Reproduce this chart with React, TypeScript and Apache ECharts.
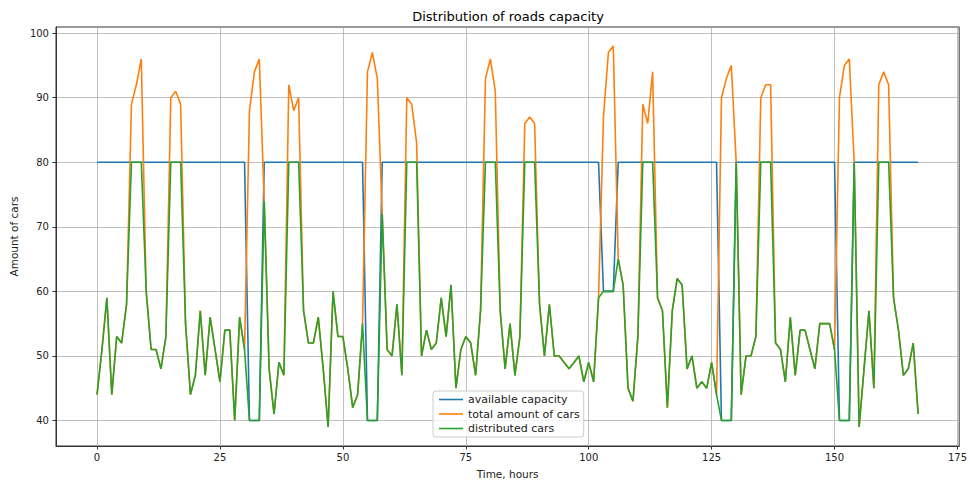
import React, { useEffect, useRef } from 'react';
import * as echarts from 'echarts';

const FONT = '"DejaVu Sans", sans-serif';
const TITLE = 'Distribution of roads capacity';
const X_NAME = 'Time, hours';
const Y_NAME = 'Amount of cars';
const X_TICKS = [0, 25, 50, 75, 100, 125, 150, 175];
const Y_TICKS = [40, 50, 60, 70, 80, 90, 100];
const SERIES_NAMES = ['available capacity', 'total amount of cars', 'distributed cars'];
const COLORS = ['#1f77b4', '#ff7f0e', '#2ca02c'];

// hourly values, hour 0 .. 167
const capacity = [
  80, 80, 80, 80, 80, 80, 80, 80, 80, 80, 80, 80,
  80, 80, 80, 80, 80, 80, 80, 80, 80, 80, 80, 80,
  80, 80, 80, 80, 80, 80, 80, 40, 40, 40, 80, 80,
  80, 80, 80, 80, 80, 80, 80, 80, 80, 80, 80, 80,
  80, 80, 80, 80, 80, 80, 80, 40, 40, 40, 80, 80,
  80, 80, 80, 80, 80, 80, 80, 80, 80, 80, 80, 80,
  80, 80, 80, 80, 80, 80, 80, 80, 80, 80, 80, 80,
  80, 80, 80, 80, 80, 80, 80, 80, 80, 80, 80, 80,
  80, 80, 80, 80, 80, 80, 80, 60, 60, 60, 80, 80,
  80, 80, 80, 80, 80, 80, 80, 80, 80, 80, 80, 80,
  80, 80, 80, 80, 80, 80, 80, 40, 40, 40, 80, 80,
  80, 80, 80, 80, 80, 80, 80, 80, 80, 80, 80, 80,
  80, 80, 80, 80, 80, 80, 80, 40, 40, 40, 80, 80,
  80, 80, 80, 80, 80, 80, 80, 80, 80, 80, 80, 80,
];

const totalCars = [
  44, 51, 59, 44, 53, 52, 58, 89, 92, 96, 60, 51,
  51, 48, 53, 90, 91, 89, 55, 44, 47, 57, 47, 56,
  51, 46, 54, 54, 40, 56, 51, 88, 94, 96, 74, 48,
  41, 49, 47, 92, 88, 90, 57, 52, 52, 56, 48, 39,
  60, 53, 53, 48, 42, 44, 55, 94, 97, 93, 72, 51,
  50, 58, 47, 90, 89, 83, 50, 54, 51, 52, 59, 53,
  61, 45, 51, 53, 52, 47, 57, 93, 96, 91, 57, 48,
  55, 47, 53, 86, 87, 86, 58, 50, 58, 50, 50, 49,
  48, 49, 50, 46, 49, 46, 59, 87, 97, 98, 65, 61,
  45, 43, 53, 89, 86, 94, 59, 57, 42, 57, 62, 61,
  48, 50, 45, 46, 45, 49, 44, 90, 93, 95, 80, 44,
  50, 50, 53, 90, 92, 92, 52, 51, 46, 56, 47, 54,
  54, 51, 48, 55, 55, 55, 51, 90, 95, 96, 80, 39,
  48, 57, 45, 92, 94, 92, 59, 54, 47, 48, 52, 41,
];

const distributedCars = [
  44, 51, 59, 44, 53, 52, 58, 80, 80, 80, 60, 51,
  51, 48, 53, 80, 80, 80, 55, 44, 47, 57, 47, 56,
  51, 46, 54, 54, 40, 56, 51, 40, 40, 40, 74, 48,
  41, 49, 47, 80, 80, 80, 57, 52, 52, 56, 48, 39,
  60, 53, 53, 48, 42, 44, 55, 40, 40, 40, 72, 51,
  50, 58, 47, 80, 80, 80, 50, 54, 51, 52, 59, 53,
  61, 45, 51, 53, 52, 47, 57, 80, 80, 80, 57, 48,
  55, 47, 53, 80, 80, 80, 58, 50, 58, 50, 50, 49,
  48, 49, 50, 46, 49, 46, 59, 60, 60, 60, 65, 61,
  45, 43, 53, 80, 80, 80, 59, 57, 42, 57, 62, 61,
  48, 50, 45, 46, 45, 49, 44, 40, 40, 40, 80, 44,
  50, 50, 53, 80, 80, 80, 52, 51, 46, 56, 47, 54,
  54, 51, 48, 55, 55, 55, 51, 40, 40, 40, 80, 39,
  48, 57, 45, 80, 80, 80, 59, 54, 47, 48, 52, 41,
];

export default function App() {
  const ref = useRef<HTMLDivElement>(null);

  useEffect(() => {
    if (!ref.current) return;
    const chart = echarts.init(ref.current, null, { renderer: 'svg' });
    const toPairs = (arr: number[]) => arr.map((v, i) => [i, v]);
    const seriesData = [capacity, totalCars, distributedCars];
    const textColor = '#222';

    chart.setOption({
      animation: false,
      backgroundColor: '#ffffff',
      textStyle: { fontFamily: FONT },
      graphic: [
        {
          type: 'text',
          x: 508,
          y: 16,
          style: {
            text: TITLE,
            fontFamily: FONT,
            fontSize: 13,
            fill: '#000',
            textAlign: 'center',
            textVerticalAlign: 'middle',
          },
        },
      ],
      grid: {
        left: 54,
        right: 8,
        top: 27,
        bottom: 36,
        show: true,
        borderColor: '#333',
        borderWidth: 1,
        backgroundColor: 'transparent',
      },
      legend: {
        orient: 'vertical',
        left: 433,
        top: 391,
        padding: [3, 4, 3, 6],
        icon: 'rect',
        itemWidth: 24,
        itemHeight: 1.6,
        itemGap: 3.5,
        backgroundColor: 'rgba(255,255,255,0.8)',
        borderColor: '#cccccc',
        borderWidth: 1,
        borderRadius: 3,
        textStyle: { fontFamily: FONT, fontSize: 11, color: textColor },
        data: SERIES_NAMES,
      },
      xAxis: {
        type: 'value',
        min: -8.35,
        max: 175.35,
        name: X_NAME,
        nameLocation: 'middle',
        nameGap: 22,
        nameTextStyle: { fontFamily: FONT, fontSize: 10.5, color: textColor },
        axisLine: { show: true, onZero: false, lineStyle: { color: '#333', width: 1 } },
        axisTick: {
          show: true,
          inside: false,
          length: 3.5,
          customValues: X_TICKS,
          lineStyle: { color: '#333', width: 1 },
        },
        axisLabel: {
          customValues: X_TICKS,
          margin: 6,
          fontFamily: FONT,
          fontSize: 10,
          color: textColor,
          showMinLabel: true,
          showMaxLabel: true,
        },
        splitLine: { show: true, lineStyle: { color: '#b0b0b0', width: 0.8 } },
      },
      yAxis: {
        type: 'value',
        min: 36.05,
        max: 100.95,
        name: Y_NAME,
        nameLocation: 'middle',
        nameGap: 36,
        nameRotate: 90,
        nameTextStyle: { fontFamily: FONT, fontSize: 10.5, color: textColor },
        axisLine: { show: true, onZero: false, lineStyle: { color: '#333', width: 1 } },
        axisTick: {
          show: true,
          inside: false,
          length: 3.5,
          customValues: Y_TICKS,
          lineStyle: { color: '#333', width: 1 },
        },
        axisLabel: {
          customValues: Y_TICKS,
          margin: 7,
          fontFamily: FONT,
          fontSize: 10,
          color: textColor,
        },
        splitLine: { show: true, lineStyle: { color: '#b0b0b0', width: 0.8 } },
      },
      series: seriesData.map((arr, k) => ({
        name: SERIES_NAMES[k],
        type: 'line',
        data: toPairs(arr),
        showSymbol: false,
        symbol: 'none',
        color: COLORS[k],
        lineStyle: { color: COLORS[k], width: 1.6 },
        z: 3 + k,
        clip: true,
      })),
    });

    return () => chart.dispose();
  }, []);

  return (
    <div
      ref={ref}
      style={{ position: 'fixed', left: 0, top: 0, width: 970, height: 484, background: '#fff' }}
    />
  );
}
